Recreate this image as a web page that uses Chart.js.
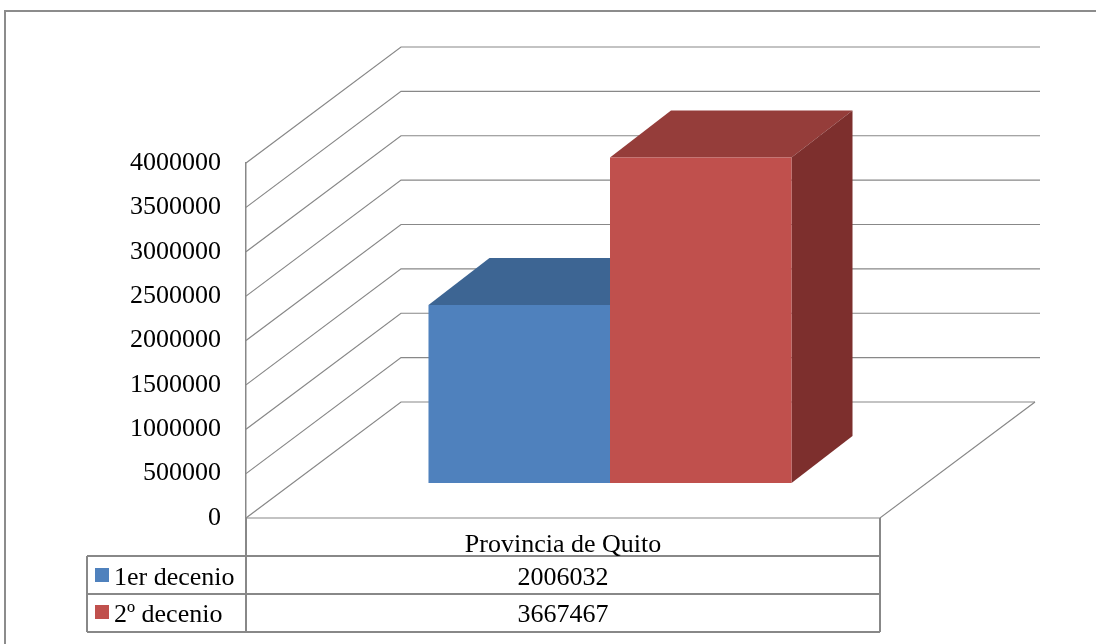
<!DOCTYPE html>
<html>
<head>
<meta charset="utf-8">
<script src="https://cdn.jsdelivr.net/npm/chart.js@4/dist/chart.umd.min.js"></script>
<style>
  html, body { margin: 0; padding: 0; background: #fff; overflow: hidden; }
  canvas { display: block; }
</style>
</head>
<body>
<canvas id="chart" width="1096" height="644"></canvas>
<script>
// data
const categories = ['Provincia de Quito'];
const seriesNames = ['1er decenio', '2\u00ba decenio'];
const firstDecade = [2006032];
const secondDecade = [3667467];
const yMax = 4000000;
const yStep = 500000;

// look
const frontColors = ['#4F81BD', '#C0504D'];
const topColors = ['#3D6593', '#953D3A'];
const sideColors = ['#345680', '#7D2F2D'];
const lineGray = '#888888';
const wallOffset = { x: 155, y: -116 };   // front plane -> back wall
const barShift = { x: 47, y: -35 };       // front plane -> bar front face
const barDepth = { x: 61, y: -47 };       // bar front -> bar back
const wallRight = 1040;

// --------------------------------------------
// 3D walls, floor and bar faces
// --------------------------------------------
const threeD = {
    id: 'threeD',
    beforeDraw(chart) {
        const ctx = chart.ctx;
        ctx.save();
        ctx.fillStyle = '#fff';
        ctx.fillRect(0, 0, chart.width, chart.height);
        // outer frame: only top and left edges show in the crop
        ctx.strokeStyle = '#8c8c8c';
        ctx.lineWidth = 2;
        ctx.beginPath();
        ctx.moveTo(chart.width, 11);
        ctx.lineTo(5, 11);
        ctx.lineTo(5, chart.height);
        ctx.stroke();
        ctx.restore();
    },
    beforeDatasetsDraw(chart) {
        const ctx = chart.ctx;
        const area = chart.chartArea;
        const y = chart.scales.y;

        // walls: each tick runs back diagonally then across the back wall
        ctx.save();
        ctx.strokeStyle = lineGray;
        ctx.lineWidth = 1.2;
        y.ticks.forEach(t => {
            const py = y.getPixelForValue(t.value);
            const bx = area.left + wallOffset.x;
            const by = py + wallOffset.y;
            ctx.beginPath();
            ctx.moveTo(area.left, py);
            ctx.lineTo(bx, by);
            ctx.lineTo(t.value === 0 ? area.right + wallOffset.x : wallRight, by);
            ctx.stroke();
        });
        // floor front and right edges
        const by0 = y.getPixelForValue(0);
        ctx.beginPath();
        ctx.moveTo(area.left, by0);
        ctx.lineTo(area.right, by0);
        ctx.lineTo(area.right + wallOffset.x, by0 + wallOffset.y);
        ctx.stroke();
        ctx.restore();

        // bar tops and sides, then shift for the front faces
        ctx.save();
        ctx.translate(barShift.x, barShift.y);
        chart.data.datasets.forEach((ds, i) => {
            const meta = chart.getDatasetMeta(i);
            meta.data.forEach(bar => {
                const L = bar.x - bar.width / 2;
                const R = bar.x + bar.width / 2;
                const T = bar.y;
                const B = bar.base;
                ctx.fillStyle = topColors[i];
                ctx.beginPath();
                ctx.moveTo(L, T);
                ctx.lineTo(R, T);
                ctx.lineTo(R + barDepth.x, T + barDepth.y);
                ctx.lineTo(L + barDepth.x, T + barDepth.y);
                ctx.closePath();
                ctx.fill();
                ctx.fillStyle = sideColors[i];
                ctx.beginPath();
                ctx.moveTo(R, T);
                ctx.lineTo(R + barDepth.x, T + barDepth.y);
                ctx.lineTo(R + barDepth.x, B + barDepth.y);
                ctx.lineTo(R, B);
                ctx.closePath();
                ctx.fill();
            });
        });
    },
    afterDatasetsDraw(chart) {
        chart.ctx.restore();
    }
};

// --------------------------------------------
// data table under the chart
// --------------------------------------------
const dataTable = {
    id: 'dataTable',
    afterDraw(chart) {
        const ctx = chart.ctx;
        const area = chart.chartArea;
        const tableLeft = 87;
        const rowTop = [556, 594];
        const tableBottom = 632;
        const mid = (area.left + area.right) / 2;

        ctx.save();
        ctx.strokeStyle = lineGray;
        ctx.lineWidth = 2;
        ctx.beginPath();
        // header cell sides
        ctx.moveTo(area.left, area.bottom);
        ctx.lineTo(area.left, tableBottom);
        ctx.moveTo(area.right, area.bottom);
        ctx.lineTo(area.right, tableBottom);
        // row lines
        rowTop.concat([tableBottom]).forEach(yy => {
            ctx.moveTo(tableLeft, yy);
            ctx.lineTo(area.right, yy);
        });
        ctx.moveTo(tableLeft, rowTop[0]);
        ctx.lineTo(tableLeft, tableBottom);
        ctx.stroke();

        ctx.fillStyle = '#000';
        ctx.font = '26px "Liberation Serif"';
        ctx.textBaseline = 'alphabetic';
        ctx.textAlign = 'center';
        ctx.fillText(categories[0], mid, 552);

        const rows = [firstDecade, secondDecade];
        const baselines = [585, 622];
        rows.forEach((vals, i) => {
            ctx.textAlign = 'center';
            ctx.fillText(String(vals[0]), mid, baselines[i]);
            ctx.fillStyle = frontColors[i];
            ctx.fillRect(95, baselines[i] - 17, 14, 14);
            ctx.fillStyle = '#000';
            ctx.textAlign = 'left';
            ctx.fillText(seriesNames[i], 114, baselines[i]);
        });
        ctx.restore();
    }
};

Chart.defaults.font.family = '"Liberation Serif", "Times New Roman", serif';

new Chart(document.getElementById('chart'), {
    type: 'bar',
    data: {
        labels: categories,
        datasets: [
            {
                label: seriesNames[0],
                data: firstDecade,
                backgroundColor: frontColors[0],
                borderWidth: 0
            },
            {
                label: seriesNames[1],
                data: secondDecade,
                backgroundColor: frontColors[1],
                borderWidth: 0
            }
        ]
    },
    options: {
        responsive: false,
        animation: false,
        events: [],
        barPercentage: 1,
        categoryPercentage: 0.5726,
        layout: {
            padding: { left: 0, right: 216, top: 163, bottom: 126 }
        },
        scales: {
            x: { display: false },
            y: {
                min: 0,
                max: yMax,
                afterFit: s => { s.width = 246; },
                ticks: {
                    stepSize: yStep,
                    autoSkip: false,
                    padding: 25,
                    color: '#000',
                    font: { size: 26 },
                    callback: v => String(v)
                },
                grid: { display: false, drawTicks: false },
                border: { display: true, color: lineGray, width: 1.5 }
            }
        },
        plugins: {
            legend: { display: false },
            tooltip: { enabled: false }
        }
    },
    plugins: [threeD, dataTable]
});
</script>
</body>
</html>
